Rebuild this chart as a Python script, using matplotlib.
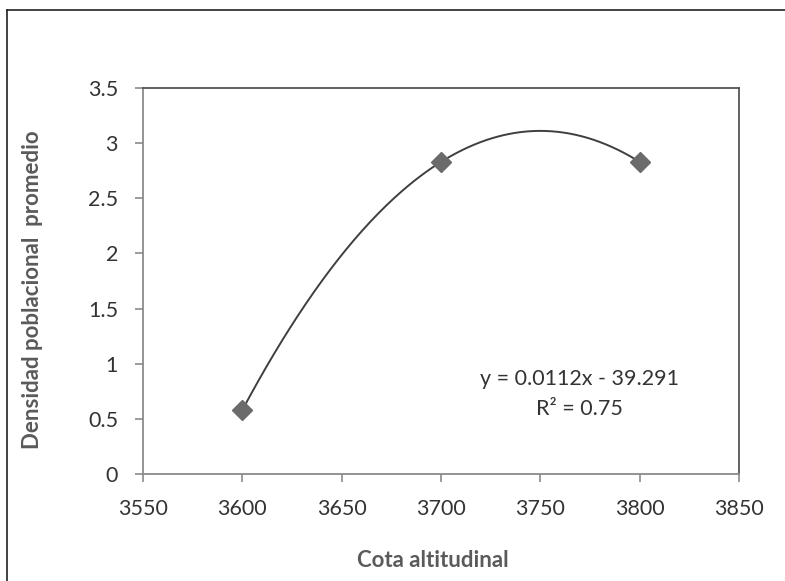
import numpy as np
import matplotlib.pyplot as plt
from matplotlib.lines import Line2D

plt.rcParams['font.family'] = ['Lato', 'DejaVu Sans']

# densidad media por cota
cota = [3600, 3700, 3800]
densidad = [0.58, 2.83, 2.83]

x_ticks = [3550, 3600, 3650, 3700, 3750, 3800, 3850]
y_ticks = [0, 0.5, 1, 1.5, 2, 2.5, 3, 3.5]
y_tick_labels = ["0", "0.5", "1", "1.5", "2", "2.5", "3", "3.5"]

ecuacion = "y = 0.0112x - 39.291"
r2 = "R² = 0.75"

fig = plt.figure(figsize=(7.85, 5.81), dpi=100)
ax = fig.add_axes([0.1822, 0.1842, 0.7592, 0.6643])

# trend line (2nd order polynomial)
coef = np.polyfit(cota, densidad, 2)
xs = np.linspace(min(cota), max(cota), 200)
ax.plot(xs, np.polyval(coef, xs), color="#3f3f3f", lw=1.4, zorder=2)

ax.plot(cota, densidad, linestyle="none", marker="D", markersize=10,
        color="#6b6b6b", zorder=3)

ax.set_xlim(3550, 3850)
ax.set_ylim(0, 3.5)
ax.set_xticks(x_ticks)
ax.set_yticks(y_ticks)
ax.set_yticklabels(y_tick_labels)

for side in ["left", "bottom"]:
    ax.spines[side].set_color("#8a8a8a")
    ax.spines[side].set_linewidth(1.3)
for side in ["top", "right"]:
    ax.spines[side].set_color("#555555")
    ax.spines[side].set_linewidth(1.3)

ax.tick_params(axis="both", direction="out", length=6, width=1.2,
               color="#8a8a8a", labelsize=15.5, labelcolor="#333333")
ax.tick_params(axis="x", pad=12)
ax.tick_params(axis="y", pad=12)

ax.set_xlabel("Cota altitudinal", fontsize=16, fontweight="bold",
              color="#5a5a5a")
ax.set_ylabel("Densidad poblacional  promedio", fontsize=16,
              fontweight="bold", color="#5a5a5a")
ax.xaxis.set_label_coords(0.487, -0.223)
ax.yaxis.set_label_coords(-0.185, 0.477)
ax.xaxis.label.set_va("center")
ax.yaxis.label.set_va("center")

ax.text(0.733, 0.245, ecuacion, transform=ax.transAxes, ha="center",
        va="center", fontsize=15.5, color="#333333")
ax.text(0.733, 0.168, r2, transform=ax.transAxes, ha="center",
        va="center", fontsize=15.5, color="#333333")

# outer frame (top and left edges)
fig.add_artist(Line2D([7 / 785, 1], [1 - 10 / 581, 1 - 10 / 581],
                      transform=fig.transFigure, color="#222222", lw=1.2))
fig.add_artist(Line2D([7 / 785, 7 / 785], [0, 1 - 10 / 581],
                      transform=fig.transFigure, color="#222222", lw=1.2))

fig.savefig("out.png", dpi=100)
